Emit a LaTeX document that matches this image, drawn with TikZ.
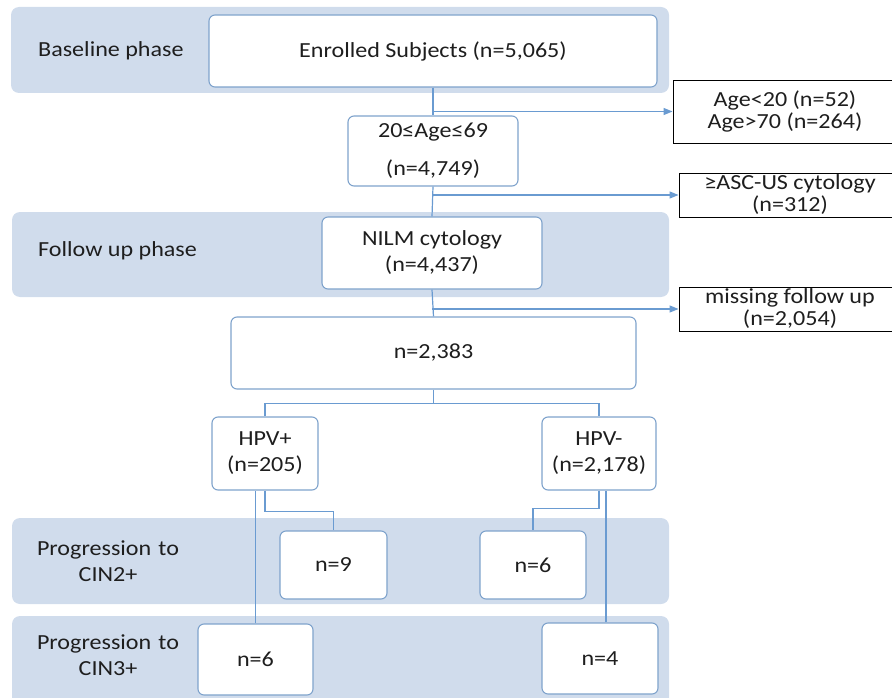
\documentclass[tikz,border=0pt]{standalone}
\usepackage{fontspec}
\setmainfont{Carlito}[FakeStretch=1.12]
\usetikzlibrary{arrows.meta}
\definecolor{bandc}{HTML}{D0DCEC}
\definecolor{bordc}{HTML}{7FA3CC}
\definecolor{connc}{HTML}{6A9BD1}
\definecolor{txtc}{HTML}{1E1E1E}
\begin{document}
\begin{tikzpicture}[x=1pt,y=-1pt,
  font=\fontsize{21.5}{26}\selectfont, text=txtc,
  box/.style={draw=bordc, line width=1.1pt, fill=white, rounded corners=6pt, align=center, inner sep=0pt},
  exbox/.style={draw=black, line width=0.9pt, fill=white, align=center, inner sep=0pt, font=\fontsize{21.5}{22}\selectfont},
  lab/.style={inner sep=0pt},
  clab/.style={inner sep=0pt, text width=160pt, align=center},
  conn/.style={draw=connc, line width=1.2pt},
  arr/.style={conn, -{Triangle[length=9pt,width=7pt]}}]
\useasboundingbox (0,0) rectangle (892,698);
\clip (0,0) rectangle (892,698);
% bands
\fill[bandc, rounded corners=8pt] (11,7) rectangle (669,93);
\fill[bandc, rounded corners=8pt] (12,212) rectangle (669,297);
\fill[bandc, rounded corners=8pt] (12,518) rectangle (669,604);
\fill[bandc, rounded corners=8pt] (12,616) rectangle (669,710);
% phase labels
\node[lab, anchor=west] (lbase) at (38,51) {Baseline phase};
\node[lab, anchor=west] (lfol) at (38,251) {Follow up phase};
\node[clab] (lcin2) at (108,561) {Progression to\\CIN2+};
\node[clab] (lcin3) at (108,655) {Progression to\\CIN3+};
% boxes
\node[box, minimum width=448pt, minimum height=72pt] (enr) at (433,51) {Enrolled Subjects (n=5,065)};
\node[box, minimum width=170pt, minimum height=70pt] (age) at (433,151) {20≤Age≤69\\[12pt](n=4,749)};
\node[box, minimum width=220pt, minimum height=72pt] (nilm) at (432,253) {NILM cytology\\(n=4,437)};
\node[box, minimum width=405pt, minimum height=72pt] (tot) at (433.5,353) {n=2,383};
\node[box, minimum width=106pt, minimum height=73pt] (hpvp) at (265,453.5) {HPV+\\(n=205)};
\node[box, minimum width=114pt, minimum height=73pt] (hpvm) at (599,453.5) {HPV-\\(n=2,178)};
\node[box, minimum width=107pt, minimum height=68pt] (n9) at (333.5,565) {n=9};
\node[box, minimum width=106pt, minimum height=68pt] (n6a) at (533,565) {n=6};
\node[box, minimum width=115pt, minimum height=71pt] (n6b) at (255.5,659.5) {n=6};
\node[box, minimum width=116pt, minimum height=71pt] (n4) at (600,658.5) {n=4};
% exclusion boxes
\node[exbox, minimum width=224pt, minimum height=63pt] (ageex) at (785,111.5) {Age<20 (n=52)\\Age>70 (n=264)};
\node[exbox, minimum width=222pt, minimum height=44pt] (ascex) at (790,195) {≥ASC-US cytology\\(n=312)};
\node[exbox, minimum width=222pt, minimum height=44pt] (misex) at (790,309) {missing follow up\\(n=2,054)};
% connectors
\draw[conn] (enr.south) -- (age.north);
\draw[arr] (enr.south |- ageex.west) -- (ageex.west);
\draw[conn] (age.south) -- (nilm.north);
\draw[arr] (age.south |- ascex.west) -- (ascex.west);
\draw[conn] (nilm.south) -- (tot.north);
\draw[arr] (nilm.south |- misex.west) -- (misex.west);
\draw[conn] (tot.south) -- ++(0,14) coordinate (split);
\draw[conn] (hpvp.north) |- (split) -| (hpvm.north);
\draw[conn] (hpvp.south) -- ++(0,21) -| (n9.north);
\draw[conn] (n6b.north) -- (n6b.north |- hpvp.south);
\draw[conn] (hpvm.south) -- ++(0,18) -| (n6a.north);
\draw[conn] ([xshift=6pt]n4.north) -- ([xshift=6pt]n4.north |- hpvm.south);
\end{tikzpicture}
\end{document}
